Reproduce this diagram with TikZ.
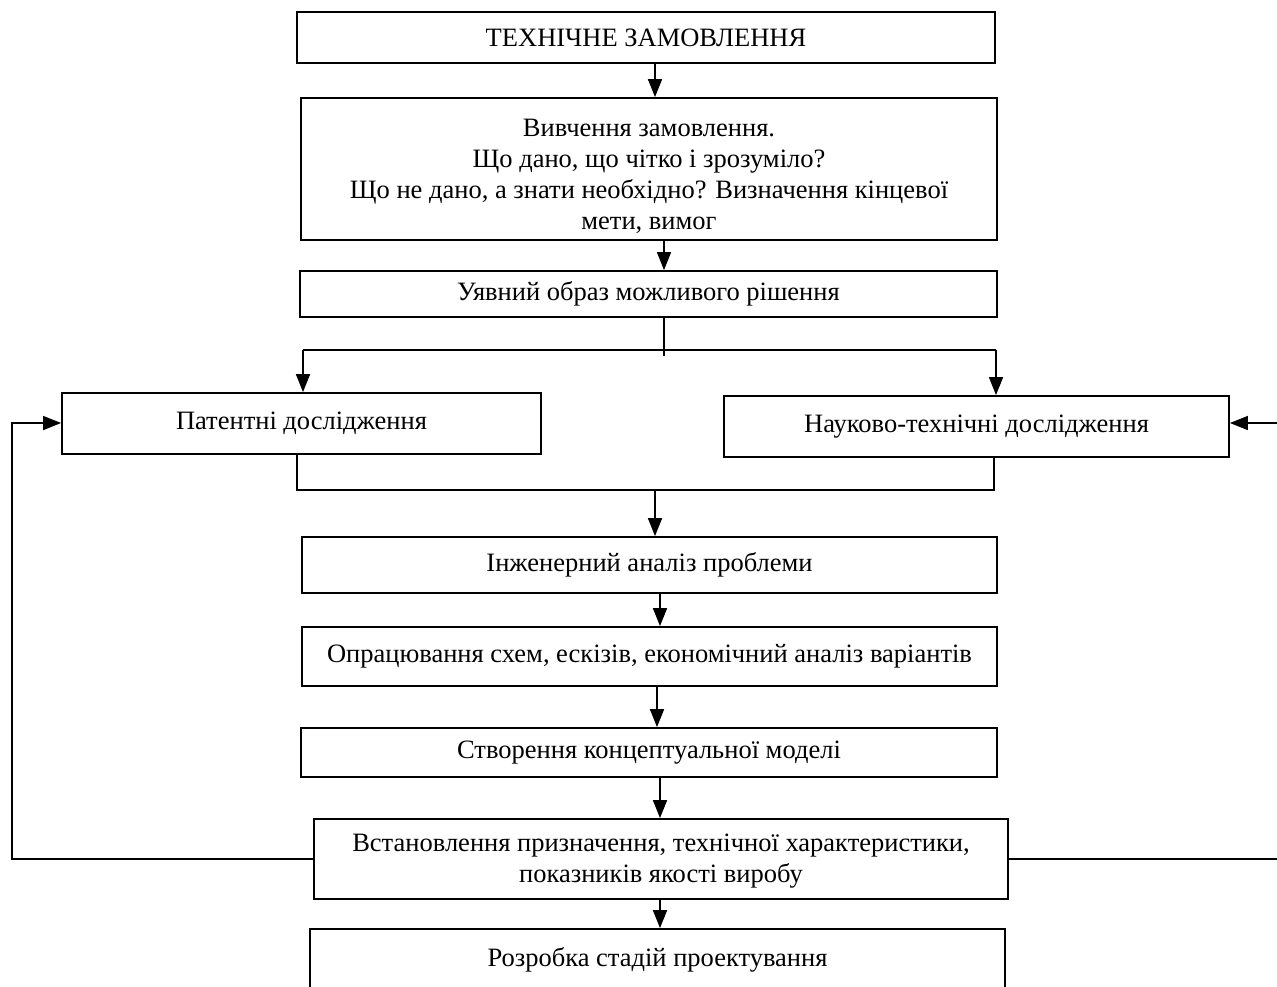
\documentclass[tikz,border=0pt]{standalone}
\usepackage{fontspec}
\setmainfont{Liberation Serif}
\usetikzlibrary{arrows.meta}
\begin{document}
\begin{tikzpicture}[x=1pt,y=-1pt,
  txt/.style={align=center, inner sep=0pt, font=\fontsize{26.5}{31}\selectfont},
  box/.style={txt, draw, line width=1.8pt, rectangle},
  link/.style={line width=1.6pt},
  arr/.style={link, -{Triangle[length=18pt,width=14pt]}}]
\useasboundingbox (0,0) rectangle (1277,986);
\node[box, minimum width=698pt, minimum height=51pt] (b1) at (646,37.5) {\raisebox{0pt}[\height][0pt]{ТЕХНІЧНЕ ЗАМОВЛЕННЯ}};
\node[box, minimum width=696pt, minimum height=142pt] (b2) at (649,169) {};
\node[txt] (b2t) at (649,176) {Вивчення замовлення.\\Що дано, що чітко і зрозуміло?\\Що не дано, а знати необхідно? Визначення кінцевої\\мети, вимог};
\node[box, minimum width=697pt, minimum height=46pt] (b3) at (648.5,294) {Уявний образ можливого рішення};
\node[box, minimum width=479pt, minimum height=61pt] (b4) at (301.5,423.5) {Патентні дослідження};
\node[box, minimum width=505pt, minimum height=61pt] (b5) at (976.5,426.5) {Науково-технічні дослідження};
\node[box, minimum width=695pt, minimum height=56pt] (b6) at (649.5,565) {Інженерний аналіз проблеми};
\node[box, minimum width=695pt, minimum height=59pt] (b7) at (649.5,656.5) {Опрацювання схем, ескізів, економічний аналіз варіантів};
\node[box, minimum width=696pt, minimum height=49pt] (b8) at (649,752.5) {Створення концептуальної моделі};
\node[box, minimum width=694pt, minimum height=80pt] (b9) at (661,859) {};
\node[txt] (b9t) at (661,861) {Встановлення призначення, технічної характеристики,\\показників якості виробу};
\node[box, minimum width=695pt, minimum height=62pt] (b10) at (657.5,960) {Розробка стадій проектування};

\coordinate (J) at (664,356);
\coordinate (HL) at (303,350);
\coordinate (HR) at (996,350);
\coordinate (ML) at (297,490);
\coordinate (MR) at (994,490);
\coordinate (MC) at (655,490);
\coordinate (L1) at (12,859);
\coordinate (L2) at (12,423);
\coordinate (R1) at (1277,859);
\coordinate (R2) at (1277,423);

\draw[arr] (b1.south -| 655,0) -- (b2.north -| 655,0);
\draw[arr] (b2.south -| 664,0) -- (b3.north -| 664,0);
\draw[link] (b3.south -| J) -- (J);
\draw[link] (HL) -- (HR);
\draw[arr] (HL) -- (b4.north -| HL);
\draw[arr] (HR) -- (b5.north -| HR);
\draw[link] (b4.south -| ML) -- (ML) -- (MR) -- (b5.south -| MR);
\draw[arr] (MC) -- (b6.north -| MC);
\draw[arr] (b6.south -| 660,0) -- (b7.north -| 660,0);
\draw[arr] (b7.south -| 657,0) -- (b8.north -| 657,0);
\draw[arr] (b8.south -| 660,0) -- (b9.north -| 660,0);
\draw[arr] (b9.south -| 660,0) -- (b10.north -| 660,0);
\draw[arr] (b9.west) -- (L1) -- (L2) -- (b4.west |- L2);
\draw[link] (b9.east) -- (R1);
\draw[arr] (R2) -- (b5.east |- R2);
\end{tikzpicture}
\end{document}
